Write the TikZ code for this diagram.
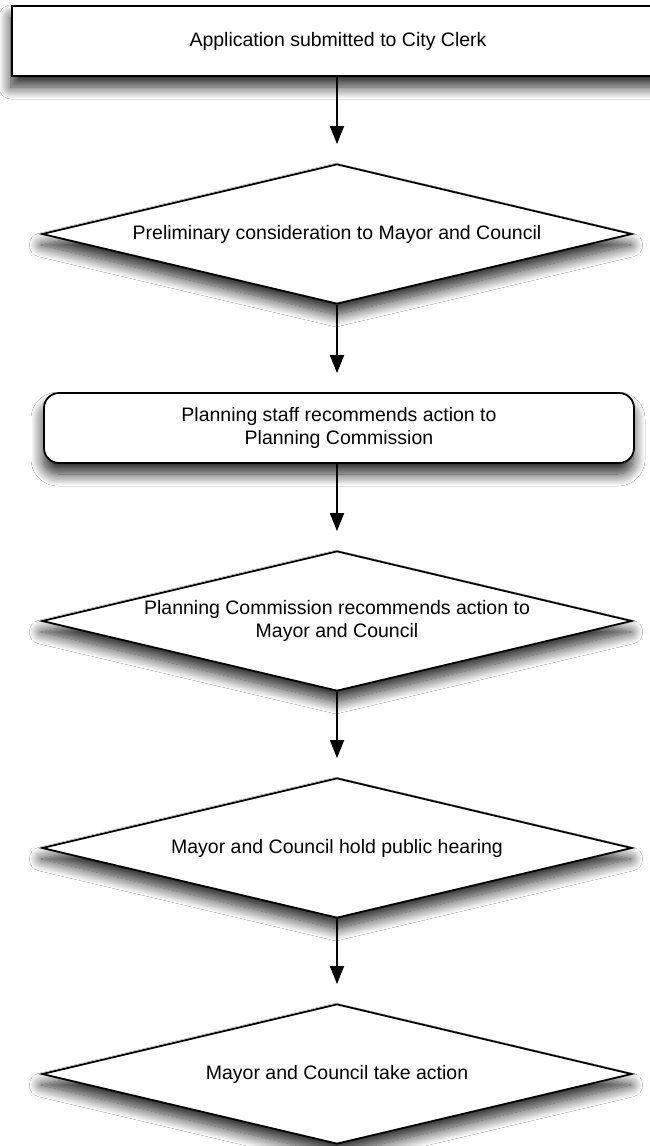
\documentclass[tikz,border=0pt]{standalone}
\usepackage{fontspec}
\setmainfont{Liberation Sans}
\usetikzlibrary{shapes.geometric,shadows.blur,arrows.meta}
\begin{document}
\begin{tikzpicture}[x=1pt,y=1pt,
  every node/.style={font=\fontsize{19.5}{23}\selectfont, align=center},
  shad/.style={blur shadow={shadow xshift=-1pt, shadow yshift=-11pt, shadow blur radius=12pt, shadow blur steps=16, shadow opacity=85}},
  procbox/.style={draw, line width=1.8pt, fill=white, rectangle, minimum width=652pt, minimum height=70pt, inner sep=0pt, shad},
  roundbox/.style={draw, line width=1.8pt, fill=white, rectangle, rounded corners=15pt, minimum width=590pt, minimum height=70pt, inner sep=0pt, shad},
  decision/.style={draw, line width=1.8pt, fill=white, diamond, aspect=4.25, minimum width=590pt, minimum height=140pt, inner sep=0pt, shad},
  flowarrow/.style={line width=1.8pt, -{Triangle[length=18pt,width=14pt]}, shorten >=19pt}
]
\useasboundingbox (0,0) rectangle (650,-1146);
\clip (0,0) rectangle (650,-1146);
\fill[white] (0,0) rectangle (650,-1146);

\node[procbox] (b1) at (338,-41) {Application submitted to City Clerk};
\node[decision] (d1) at (337,-234) {Preliminary consideration to Mayor and Council};
\node[roundbox] (b2) at (339,-428) {Planning staff recommends action to\\Planning Commission};
\node[decision] (d3) at (337,-621) {Planning Commission recommends action to\\Mayor and Council};
\node[decision] (d4) at (337,-848) {Mayor and Council hold public hearing};
\node[decision] (d5) at (337,-1074) {Mayor and Council take action};

\draw[flowarrow] (b1.south -| d1.north) -- (d1.north);
\draw[flowarrow] (d1.south) -- (d1.south |- b2.north);
\draw[flowarrow] (b2.south -| d3.north) -- (d3.north);
\draw[flowarrow] (d3.south) -- (d4.north);
\draw[flowarrow] (d4.south) -- (d5.north);
\end{tikzpicture}
\end{document}
